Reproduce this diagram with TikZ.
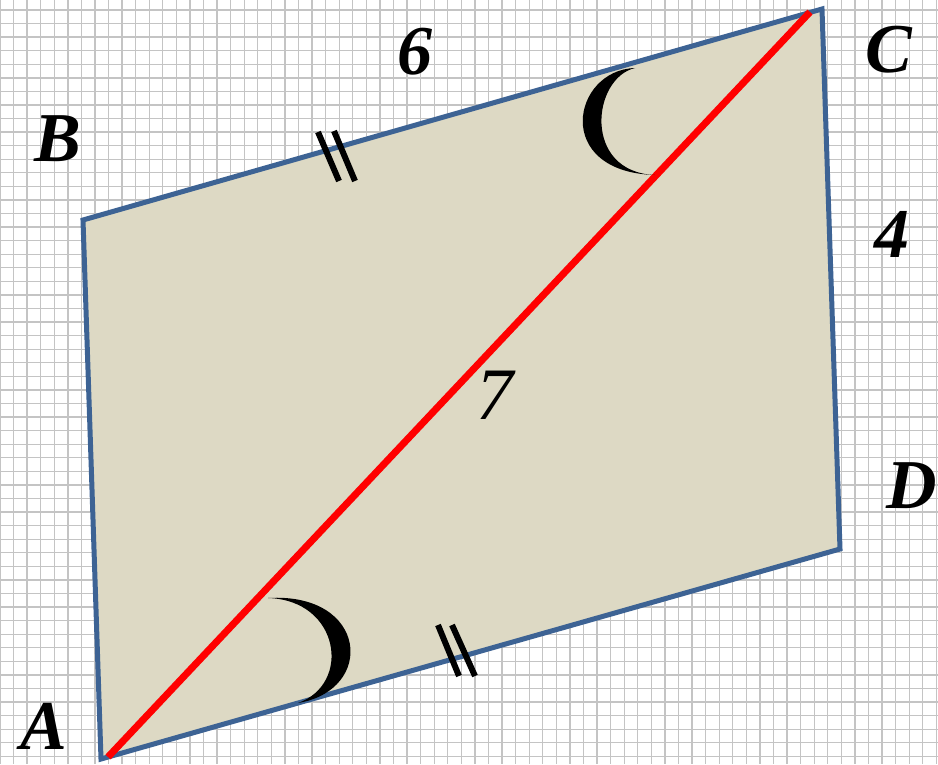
\documentclass[tikz,border=0pt]{standalone}
\usepackage{fontspec}
\setmainfont{Liberation Serif}
\begin{document}
\begin{tikzpicture}[x=1pt,y=-1pt,
  lbl/.style={font=\fontsize{70}{70}\selectfont\bfseries\itshape,inner sep=0pt},
  tick/.style={draw=black,line width=6pt}]
\definecolor{edgeblue}{HTML}{3D6394}
\definecolor{quadfill}{HTML}{DDD9C4}
\definecolor{gridgray}{HTML}{C4C4C4}
\useasboundingbox (0,0) rectangle (938,764);
\fill[white] (0,0) rectangle (938,764);
\foreach \i in {0,...,69} {\draw[draw=gridgray,line width=1.3pt] (\i*13.57,0) -- (\i*13.57,764);}
\foreach \j in {0,...,56} {\draw[draw=gridgray,line width=1.3pt] (0,10+\j*13.57) -- (938,10+\j*13.57);}
\coordinate (A) at (101,759);
\coordinate (B) at (83,220);
\coordinate (C) at (822,9);
\coordinate (D) at (840,549);
\filldraw[fill=quadfill,draw=edgeblue,line width=5pt,line join=miter] (A) -- (B) -- (C) -- (D) -- cycle;
\coordinate (rA) at (108,757);
\coordinate (rC) at (810,12);
\draw[red,line width=7pt] (rA) -- (rC);
% crescents
\fill[black] (635,68) .. controls (572,70) and (552,172) .. (655,175)
  .. controls (582,172) and (592,78) .. cycle;
\fill[black] (268,598) .. controls (368,592) and (376,690) .. (298,703)
  .. controls (352,684) and (340,600) .. cycle;
% ticks
\coordinate (t1a) at (318,132); \coordinate (t1b) at (339,181);
\coordinate (t2a) at (334,131); \coordinate (t2b) at (355,181);
\coordinate (t3a) at (438,625); \coordinate (t3b) at (459,676);
\coordinate (t4a) at (452,625); \coordinate (t4b) at (475,676);
\draw[tick] (t1a) -- (t1b);
\draw[tick] (t2a) -- (t2b);
\draw[tick] (t3a) -- (t3b);
\draw[tick] (t4a) -- (t4b);
% labels
\node[lbl] (lA) at (44,726) {A};
\node[lbl] (lB) at (58,139) {B};
\node[lbl] (lC) at (889,50) {C};
\node[lbl] (lD) at (912,486) {D};
\node[lbl] (l6) at (415,52) {6};
\node[lbl] (l4) at (892,234) {4};
\node[lbl,font=\fontsize{74}{74}\selectfont\itshape] (l7) at (495,395) {7};
\end{tikzpicture}
\end{document}
